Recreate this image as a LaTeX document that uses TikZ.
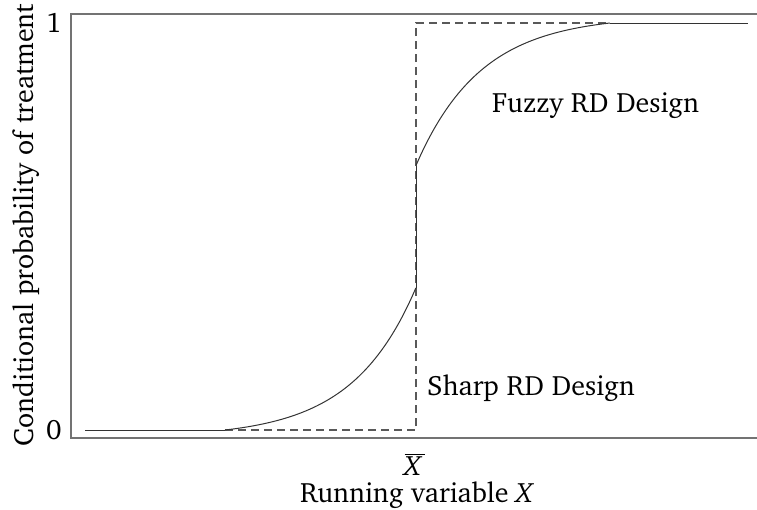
\documentclass[tikz,border=0pt]{standalone}
\usepackage[T1]{fontenc}
\usepackage{charter}
\begin{document}
\begin{tikzpicture}[x=1pt,y=-1pt,
  axisline/.style={draw=black!55, line width=1.6pt},
  curveline/.style={draw=black!80, line width=1pt},
  dashline/.style={draw=black!65, line width=1.1pt, dash pattern=on 8pt off 5pt},
  lbl/.style={inner sep=0pt, font=\fontsize{28}{33}\selectfont}]
\useasboundingbox (0,0) rectangle (757,509);
% frame: left, top and bottom axes
\coordinate (tl) at (71,14);
\coordinate (tr) at (757,14);
\coordinate (bl) at (71,438);
\coordinate (br) at (757,438);
\draw[axisline] (tr) -- (tl) -- (bl) -- (br);
% key points of the two designs
\coordinate (lowstart) at (85,430);
\coordinate (kneelow) at (225,430);
\coordinate (cutlow) at (416,430);
\coordinate (cuthigh) at (416,23);
\coordinate (kneehigh) at (610,23);
\coordinate (highend) at (748,23);
\coordinate (jumplow) at (416,288);
\coordinate (jumphigh) at (416,165.5);
% sharp design: a step at the cutoff
\draw[dashline] (kneelow) -- (cutlow) -- (cuthigh) -- (kneehigh);
% fuzzy design: smooth rise with a jump at the cutoff
\draw[curveline] (lowstart) -- (kneelow);
\draw[curveline] plot[domain=0:1, samples=80, smooth]
  ({225+191*\x}, {430-142.45*(exp(3*\x)-1)/19.0855});
\draw[curveline] (jumplow) -- (jumphigh);
\draw[curveline] plot[domain=0:1, samples=80, smooth]
  ({416+194*\x}, {23+142.45*(exp(3*(1-\x))-1)/19.0855});
\draw[curveline] (kneehigh) -- (highend);
% labels
\node[lbl, anchor=base] (one) at (54,32) {1};
\node[lbl, anchor=base] (zero) at (54,439) {0};
\node[lbl, anchor=base, rotate=90] (ylab) at (33,225) {Conditional probability of treatment};
\node[lbl, anchor=base west] (fuzzy) at (492,112) {Fuzzy RD Design};
\node[lbl, anchor=base west] (sharp) at (427,395) {Sharp RD Design};
\node[lbl, anchor=base] (xbar) at (415,475) {$\overline{\mbox{\itshape X\,}}$};
\node[lbl, anchor=base west] (xlab) at (300,502) {Running variable \textit{X}};
\end{tikzpicture}
\end{document}
